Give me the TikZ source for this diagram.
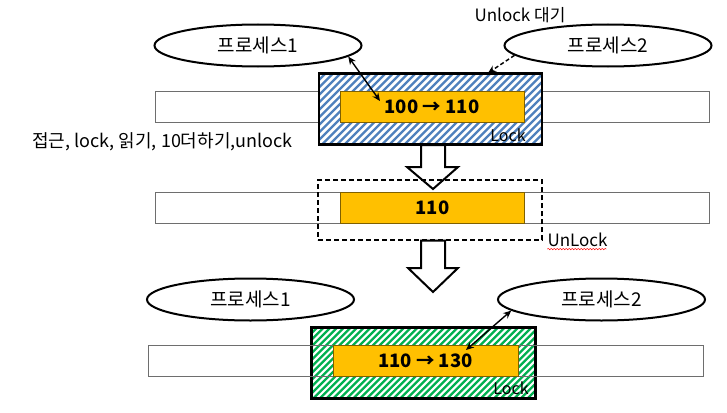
\documentclass[tikz,border=0pt]{standalone}
\usepackage{fontspec}
\setmainfont{Noto Sans CJK KR}
\usetikzlibrary{shapes.geometric,arrows.meta,decorations.pathmorphing}
\definecolor{hatchblue}{RGB}{79,129,189}
\definecolor{hatchgreen}{RGB}{0,176,80}
\definecolor{valfill}{RGB}{255,192,0}
\definecolor{valline}{RGB}{127,96,0}
\definecolor{barline}{RGB}{110,110,110}
\tikzset{
  lbl/.style = {inner sep=0pt, text centered, font=\fontsize{17}{17}\selectfont},
  proc/.style = {lbl, ellipse, draw=black, line width=2pt, minimum width=207pt, minimum height=42pt, font=\fontsize{19}{19}\selectfont},
  membar/.style = {rectangle, draw=barline, fill=white, line width=1pt, inner sep=0pt, minimum width=554pt, minimum height=31pt},
  lockbox/.style n args = {3}{rectangle, draw=black, line width=2.6pt, fill=white, inner sep=0pt, minimum width=223pt, minimum height=71pt,
    path picture={\foreach \k in {0,...,52}
      \draw [#1, line width=#3] ([xshift=\k*#2-76pt, yshift=-4pt]path picture bounding box.south west) -- ++(84pt,84pt);}},
  unlockbox/.style = {rectangle, draw=black, line width=1.8pt, dash pattern=on 5pt off 3pt, inner sep=0pt, minimum width=224pt, minimum height=60pt},
  valbox/.style = {lbl, rectangle, fill=valfill, draw=valline, line width=0.9pt, minimum width=184pt, minimum height=31pt, font=\fontsize{18.5}{18.5}\selectfont\bfseries},
  locktag/.style = {lbl, font=\fontsize{16}{16}\selectfont},
  conn/.style = {line width=1.4pt, -{Stealth[length=8pt, width=7pt]}},
  bothconn/.style = {conn, {Stealth[length=8pt, width=7pt]}-{Stealth[length=8pt, width=7pt]}},
  blockarrow/.style = {draw=black, fill=white, line width=2pt, line join=miter},
}
\begin{document}
\begin{tikzpicture}[x=1pt, y=-1pt]
\useasboundingbox (0,0) rectangle (727,412);
% step 1: process 1 reads with the lock held, process 2 waits
\node [proc] (P1a) at (258,45.5) {프로세스1};
\node [proc] (P2a) at (608,45.5) {프로세스2};
\node [lbl] (Wait) at (520,15) {Unlock 대기};
\draw [blockarrow] (421,145) -- (445,145) -- (445,167) -- (458,167) -- (433,189) -- (407,167) -- (421,167) -- cycle;
\node [membar] (M1) at (432,106.5) {};
\node [lockbox={hatchblue}{7.5pt}{2.4pt}] (L1) at (430.5,109) {};
\node [valbox] (V1) at (432,106.5) {100 → 110};
\node [locktag] (L1t) at (508,135) {Lock};
\node [lbl, font=\fontsize{18}{18}\selectfont] (Steps) at (162.5,141.7) {접근, lock, 읽기, 10더하기,unlock};
\coordinate (A1) at (380,101);
\coordinate (W1) at (488,73);
\draw [bothconn] (P1a.-7) -- (A1);
\draw [conn, dash pattern=on 4pt off 2.5pt] (P2a.186) -- (W1);
% step 2: lock released
\node [membar] (M2) at (432,207.5) {};
\node [valbox] (V2) at (432.5,207.5) {110};
\node [unlockbox] (U2) at (430,210.3) {};
\node [lbl] (U2t) at (577.5,240) {UnLock};
\draw [red, line width=0.5pt, decorate, decoration={snake, amplitude=0.7pt, segment length=3pt}] (U2t.south west) ++(0,2) -- ++(59,0);
\draw [blockarrow] (421,240.5) -- (445,240.5) -- (445,268) -- (458,268) -- (433,292) -- (408,268) -- (421,268) -- cycle;
% step 3: process 2 holds the lock
\node [proc] (P1c) at (250.5,299.5) {프로세스1};
\node [proc] (P2c) at (601.5,299.5) {프로세스2};
\node [lockbox={hatchgreen}{6.7pt}{2.3pt}, minimum width=224pt] (L3) at (423.7,362.75) {};
% NOTE: this bar is drawn over the hatching, its edges show through
\node [membar, fill=none, minimum width=555pt] (M3) at (425.5,360.5) {};
\node [valbox, minimum width=185pt] (V3) at (425.5,360.5) {110 → 130};
\node [locktag] (L3t) at (511,388) {Lock};
\coordinate (A3) at (466,350);
\draw [bothconn] (P2c.187) -- (A3);
\end{tikzpicture}
\end{document}
